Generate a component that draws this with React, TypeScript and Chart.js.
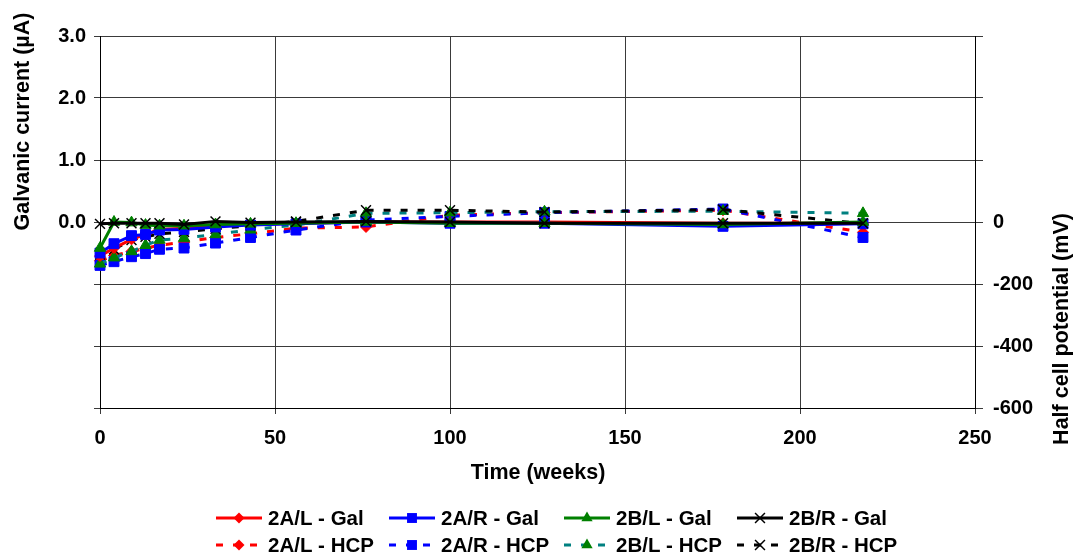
import React, { useEffect, useRef } from 'react';
import { Chart, registerables } from 'chart.js';

Chart.register(...registerables);

// Exposure time in weeks for every reading
const weeks = [0, 4, 9, 13, 17, 24, 33, 43, 56, 76, 100, 127, 178, 218];

// Galvanic current (µA), left axis
const gal2AL = [-0.55, -0.42, -0.28, -0.2, -0.12, -0.1, -0.05, -0.04, -0.02, 0.0, 0.0, 0.0, -0.02, -0.02];
const gal2AR = [-0.5, -0.35, -0.22, -0.2, -0.13, -0.12, -0.08, -0.05, -0.03, 0.0, -0.02, -0.02, -0.07, -0.03];
const gal2BL = [-0.42, 0.0, -0.01, -0.05, -0.06, -0.06, -0.04, -0.03, -0.02, 0.0, -0.02, -0.02, -0.04, 0.0];
const gal2BR = [-0.03, -0.02, -0.02, -0.02, -0.02, -0.04, 0.01, -0.01, 0.0, 0.01, 0.0, -0.02, -0.02, -0.02];

// Half cell potential (mV), right axis
const hcp2AL = [-125, -108, -95, -85, -75, -65, -50, -38, -20, -16, 22, 30, 38, -33];
const hcp2AR = [-140, -128, -112, -102, -88, -84, -68, -50, -26, 6, 18, 30, 42, -50];
const hcp2BL = [-135, -115, -95, -75, -58, -52, -40, -25, -10, 28, 30, 33, 35, 28];
const hcp2BR = [-105, -88, -58, -48, -38, -32, -22, -12, 2, 38, 38, 32, 40, -5];

const seriesLabels = [
  '2A/L - Gal', '2A/R - Gal', '2B/L - Gal', '2B/R - Gal',
  '2A/L - HCP', '2A/R - HCP', '2B/L - HCP', '2B/R - HCP',
];

const FONT = "'Liberation Sans', Arial, sans-serif";
const DASH = [7, 10];

type Marker = 'rectRot' | 'rect' | 'triangle' | 'crossRot';

const toPoints = (vals: number[]) => vals.map((v, i) => ({ x: weeks[i], y: v }));

const markerRadius: Record<Marker, number> = { rectRot: 5.5, rect: 7, triangle: 6.5, crossRot: 7 };

function makeSet(label: string, vals: number[], axis: string, line: string, fill: string,
  marker: Marker, dashed: boolean, order: number) {
  return {
    label,
    data: toPoints(vals),
    yAxisID: axis,
    borderColor: line,
    backgroundColor: fill,
    pointBackgroundColor: fill,
    pointBorderColor: fill,
    pointStyle: marker,
    pointRadius: markerRadius[marker],
    pointBorderWidth: marker === 'crossRot' ? 1.5 : 1,
    borderWidth: 3,
    borderDash: dashed ? DASH : [],
    tension: 0,
    fill: false,
    clip: false as const,
    order,
  };
}

// Draws one legend symbol
function drawMarker(ctx: CanvasRenderingContext2D, marker: Marker, x: number, y: number, color: string) {
  const r = markerRadius[marker];
  ctx.save();
  ctx.fillStyle = color;
  ctx.strokeStyle = color;
  ctx.setLineDash([]);
  ctx.beginPath();
  if (marker === 'rectRot') {
    ctx.moveTo(x - r, y); ctx.lineTo(x, y - r); ctx.lineTo(x + r, y); ctx.lineTo(x, y + r); ctx.closePath(); ctx.fill();
  } else if (marker === 'rect') {
    const s = r * Math.SQRT1_2;
    ctx.rect(x - s, y - s, 2 * s, 2 * s); ctx.fill();
  } else if (marker === 'triangle') {
    ctx.moveTo(x, y - r);
    ctx.lineTo(x + Math.sin(2 * Math.PI / 3) * r, y - Math.cos(2 * Math.PI / 3) * r);
    ctx.lineTo(x + Math.sin(4 * Math.PI / 3) * r, y - Math.cos(4 * Math.PI / 3) * r);
    ctx.closePath(); ctx.fill();
  } else {
    const s = r * Math.SQRT1_2;
    ctx.lineWidth = 1.5;
    ctx.moveTo(x - s, y - s); ctx.lineTo(x + s, y + s);
    ctx.moveTo(x + s, y - s); ctx.lineTo(x - s, y + s);
    ctx.stroke();
  }
  ctx.restore();
}

const legendColumns = [216, 389, 564, 737];
const legendRows = [518, 545];

const legendPlugin = {
  id: 'gridLegend',
  afterDraw(chart: any) {
    const ctx: CanvasRenderingContext2D = chart.ctx;
    chart.data.datasets.forEach((ds: any, i: number) => {
      const x0 = legendColumns[i % 4];
      const y = legendRows[Math.floor(i / 4)];
      ctx.save();
      ctx.strokeStyle = ds.borderColor;
      ctx.lineWidth = 3;
      ctx.setLineDash(ds.borderDash);
      ctx.beginPath();
      ctx.moveTo(x0, y);
      ctx.lineTo(x0 + 46, y);
      ctx.stroke();
      ctx.restore();
      drawMarker(ctx, ds.pointStyle, x0 + 23, y, ds.pointBackgroundColor);
      ctx.save();
      ctx.fillStyle = '#000';
      ctx.font = `bold 20.5px ${FONT}`;
      ctx.textAlign = 'left';
      ctx.textBaseline = 'middle';
      ctx.fillText(ds.label, x0 + 52, y + 1);
      ctx.restore();
    });
  },
};

const titlePlugin = {
  id: 'axisTitles',
  afterDraw(chart: any) {
    const ctx: CanvasRenderingContext2D = chart.ctx;
    ctx.save();
    ctx.fillStyle = '#000';
    ctx.font = `bold 21.5px ${FONT}`;
    ctx.textAlign = 'center';
    ctx.textBaseline = 'middle';
    ctx.fillText('Time (weeks)', 538, 473);

    ctx.save();
    ctx.translate(23, 121.5);
    ctx.rotate(-Math.PI / 2);
    ctx.fillText('Galvanic current (µA)', 0, 0);
    ctx.restore();

    ctx.save();
    ctx.translate(1062, 329);
    ctx.rotate(-Math.PI / 2);
    ctx.fillText('Half cell potential (mV)', 0, 0);
    ctx.restore();
    ctx.restore();
  },
};

export default function App() {
  const canvasRef = useRef<HTMLCanvasElement>(null);

  useEffect(() => {
    document.body.style.margin = '0';
    const canvas = canvasRef.current;
    if (!canvas) return;

    const tickFont = { family: FONT, size: 20, weight: 'bold' as const };
    const gridColor = '#3a3a3a';

    const chart = new Chart(canvas, {
      type: 'line',
      data: {
        datasets: [
          makeSet(seriesLabels[0], gal2AL, 'y', '#ff0000', '#ff0000', 'rectRot', false, 3),
          makeSet(seriesLabels[1], gal2AR, 'y', '#0000ff', '#0000ff', 'rect', false, 2),
          makeSet(seriesLabels[2], gal2BL, 'y', '#008000', '#008000', 'triangle', false, 1),
          makeSet(seriesLabels[3], gal2BR, 'y', '#000000', '#000000', 'crossRot', false, 0),
          makeSet(seriesLabels[4], hcp2AL, 'y1', '#ff0000', '#ff0000', 'rectRot', true, 7),
          makeSet(seriesLabels[5], hcp2AR, 'y1', '#0000ff', '#0000ff', 'rect', true, 6),
          makeSet(seriesLabels[6], hcp2BL, 'y1', '#008080', '#008000', 'triangle', true, 5),
          makeSet(seriesLabels[7], hcp2BR, 'y1', '#000000', '#000000', 'crossRot', true, 4),
        ],
      },
      options: {
        responsive: false,
        animation: false,
        layout: { padding: { top: 36, left: 0, right: 0, bottom: 0 } },
        plugins: {
          legend: { display: false },
          tooltip: { enabled: false },
          title: { display: false },
        },
        scales: {
          x: {
            type: 'linear',
            min: 0,
            max: 250,
            ticks: { stepSize: 50, font: tickFont, color: '#000', padding: 12, maxRotation: 0 },
            grid: { color: gridColor, tickLength: 6, lineWidth: 1 },
            border: { color: '#000', width: 1 },
            afterFit: (s: any) => { s.height = 149; },
          },
          y: {
            type: 'linear',
            position: 'left',
            min: -3,
            max: 3,
            ticks: {
              stepSize: 1,
              font: tickFont,
              color: '#000',
              padding: 8,
              callback: (v: any) => (Number(v) >= 0 ? Number(v).toFixed(1) : ''),
            },
            grid: { color: gridColor, tickLength: 6, lineWidth: 1 },
            border: { color: '#000', width: 1 },
            afterFit: (s: any) => { s.width = 100; },
          },
          y1: {
            type: 'linear',
            position: 'right',
            min: -600,
            max: 600,
            ticks: {
              stepSize: 200,
              font: tickFont,
              color: '#000',
              padding: 10,
              callback: (v: any) => (Number(v) <= 0 ? String(v) : ''),
            },
            grid: { color: gridColor, tickLength: 8, drawOnChartArea: false, lineWidth: 1 },
            border: { color: '#000', width: 1 },
            afterFit: (s: any) => { s.width = 98; },
          },
        },
      },
      plugins: [legendPlugin, titlePlugin],
    });

    return () => chart.destroy();
  }, []);

  return (
    <div style={{ width: 1073, height: 557, background: '#fff' }}>
      <canvas ref={canvasRef} width={1073} height={557} style={{ display: 'block' }} />
    </div>
  );
}
